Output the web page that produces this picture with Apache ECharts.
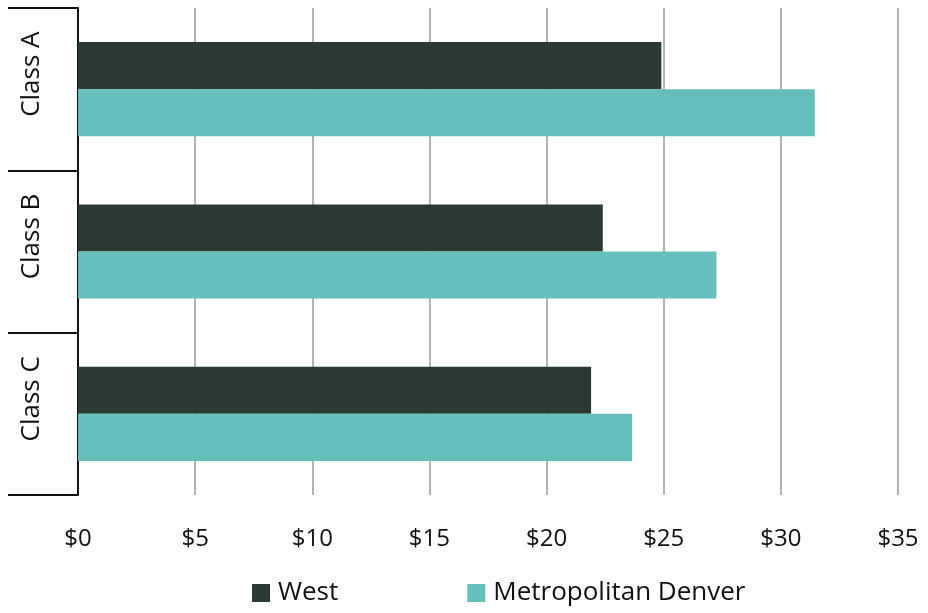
<!DOCTYPE html>
<html>
<head>
<meta charset="utf-8">
<script src="https://cdn.jsdelivr.net/npm/echarts@6/dist/echarts.min.js"></script>
<style>
  html, body { margin: 0; padding: 0; background: #fff; }
  #chart { width: 928px; height: 613px; }
</style>
</head>
<body>
<div id="chart"></div>
<script>
const categories = ['Class A', 'Class B', 'Class C']
const west = [24.9, 22.4, 21.9]
const metroDenver = [31.45, 27.25, 23.65]
const seriesNames = ['West', 'Metropolitan Denver']

const font = 'Open Sans'
const chart = echarts.init(document.getElementById('chart'))
chart.setOption({
  animation: false,
  textStyle: { fontFamily: font },
  legend: {
    data: seriesNames,
    left: 252,
    top: 580,
    padding: 0,
    itemWidth: 18,
    itemHeight: 18,
    itemGap: 129,
    icon: 'rect',
    textStyle: { fontSize: 26, color: '#111', fontFamily: font, padding: [0, 0, 0, 3] }
  },
  grid: {
    left: 78,
    right: 30,
    top: 8,
    bottom: 118
  },
  xAxis: {
    type: 'value',
    min: 0,
    max: 35,
    interval: 5,
    axisLine: { show: false },
    axisTick: { show: false },
    axisLabel: {
      formatter: v => '$' + v,
      fontSize: 24,
      color: '#111',
      margin: 32,
      fontFamily: font
    },
    splitLine: { lineStyle: { color: '#b3b3b3', width: 2 } }
  },
  yAxis: {
    type: 'category',
    data: categories,
    inverse: true,
    axisLine: { show: true, lineStyle: { color: '#111', width: 2 } },
    axisTick: { show: true, length: 70, lineStyle: { color: '#111', width: 2 } },
    axisLabel: {
      rotate: 90,
      fontSize: 26,
      color: '#111',
      margin: 33,
      padding: [0, 0, 0, 30],
      fontFamily: font
    }
  },
  series: [
    {
      name: seriesNames[0],
      type: 'bar',
      data: west,
      barGap: 0,
      barCategoryGap: '42%',
      itemStyle: { color: '#2a3a33' }
    },
    {
      name: seriesNames[1],
      type: 'bar',
      data: metroDenver,
      barGap: 0,
      barCategoryGap: '42%',
      itemStyle: { color: '#66bfbb' }
    }
  ]
})
</script>
</body>
</html>
